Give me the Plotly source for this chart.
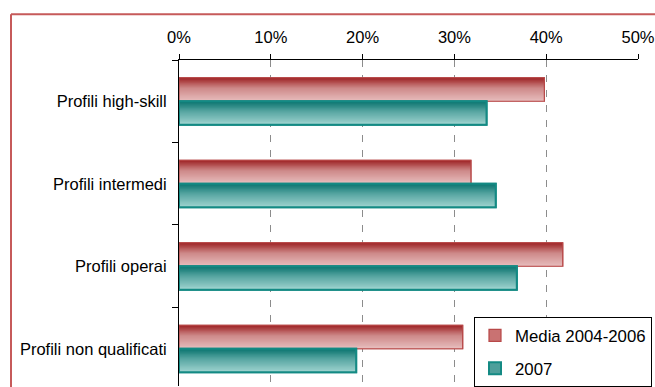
import plotly.graph_objects as go

# ---- data -------------------------------------------------------------
categories = ["Profili high-skill", "Profili intermedi", "Profili operai",
              "Profili non qualificati"]
series_names = ["Media 2004-2006", "2007"]
media_2004_2006 = [39.8, 31.8, 41.8, 30.9]
anno_2007 = [33.5, 34.5, 36.8, 19.3]
x_ticks = [0, 10, 20, 30, 40, 50]
x_tick_labels = [f"{v}%" for v in x_ticks]

# ---- styling ----------------------------------------------------------
W, H = 655, 387
ML, MR, MT, MB = 179, 17, 60, 0
PLOT_W, PLOT_H = W - ML - MR, H - MT - MB
FONT = "Liberation Sans"
BAR_W = 0.285          # thickness of one bar, in category units
N_STRIPS = 24          # slices used to shade each bar top-to-bottom

styles = [
    dict(stops=[(0.0, (0xA0, 0x27, 0x29)), (0.45, (0xCE, 0x8A, 0x8A)),
                (1.0, (0xE6, 0xBB, 0xBB))],
         line="#B84848", lw=1.2, legend_fill="#C97272", side=-1),
    dict(stops=[(0.0, (0x0E, 0x76, 0x71)), (0.45, (0x5A, 0xA7, 0xA3)),
                (1.0, (0x9D, 0xD2, 0xCE))],
         line="#148A84", lw=2, legend_fill="#4E9F9B", side=0),
]


def shade(stops, t):
    for (t0, c0), (t1, c1) in zip(stops[:-1], stops[1:]):
        if t <= t1:
            f = (t - t0) / (t1 - t0) if t1 > t0 else 0
            return "rgb(%d,%d,%d)" % tuple(round(a + (b - a) * f)
                                           for a, b in zip(c0, c1))
    return "rgb(%d,%d,%d)" % stops[-1][1]


def px_x(px):
    return (px - ML) / PLOT_W


def px_y(py):
    return 1 - (py - MT) / PLOT_H


fig = go.Figure()

for name, values, st in zip(series_names, [media_2004_2006, anno_2007], styles):
    start = st["side"] * BAR_W
    # legend entry / base fill
    fig.add_trace(go.Bar(
        x=values, y=categories, orientation="h", name=name,
        legendgroup=name, width=BAR_W, offset=start,
        marker=dict(color=st["legend_fill"], line=dict(color=st["line"], width=st["lw"])),
        hoverinfo="skip"))
    # vertical shading: each slice runs to the bar's lower edge, later ones on top
    for k in range(N_STRIPS):
        t = k / (N_STRIPS - 1)
        top = start + k * BAR_W / N_STRIPS
        fig.add_trace(go.Bar(
            x=values, y=categories, orientation="h", showlegend=False,
            legendgroup=name, width=BAR_W - k * BAR_W / N_STRIPS, offset=top,
            marker=dict(color=shade(st["stops"], t), line=dict(width=0)),
            hoverinfo="skip"))
    # outline on top
    fig.add_trace(go.Bar(
        x=values, y=categories, orientation="h", showlegend=False,
        legendgroup=name, width=BAR_W, offset=start,
        marker=dict(color="rgba(0,0,0,0)", line=dict(color=st["line"], width=st["lw"])),
        hoverinfo="skip"))

# chart-area frame (top and left edges)
frame = "#C65A5A"
fig.add_shape(type="line", xref="paper", yref="paper",
              x0=px_x(11), x1=px_x(W + 20), y0=px_y(14), y1=px_y(14),
              line=dict(color=frame, width=2))
fig.add_shape(type="line", xref="paper", yref="paper",
              x0=px_x(11), x1=px_x(11), y0=px_y(14), y1=px_y(H + 20),
              line=dict(color=frame, width=2))

fig.update_layout(
    width=W, height=H,
    margin=dict(l=ML, r=MR, t=MT, b=MB, pad=0),
    paper_bgcolor="white", plot_bgcolor="white",
    barmode="overlay",
    font=dict(family=FONT, size=16.5, color="black"),
    legend=dict(x=px_x(652), xanchor="right", y=px_y(318), yanchor="top",
                bgcolor="white", bordercolor="black", borderwidth=1,
                font=dict(size=16.8), traceorder="grouped", tracegroupgap=8,
                itemwidth=30),
    xaxis=dict(side="top", range=[0, 50], tickmode="array", tickvals=x_ticks,
               ticktext=x_tick_labels,
               showline=True, linecolor="black", linewidth=1,
               ticks="outside", ticklen=5, tickcolor="black",
               ticklabelstandoff=4,
               showgrid=True, gridcolor="#8C8C8C", gridwidth=1,
               griddash="7px,8px", zeroline=False, fixedrange=True),
    yaxis=dict(type="category", categoryorder="array", categoryarray=categories,
               range=[3.5 - (391 - H) / ((391 - MT) / 4), -0.5],
               showline=True, linecolor="black", linewidth=1,
               ticks="outside", ticklen=6, tickcolor="black",
               tickson="boundaries", ticklabelstandoff=8,
               showgrid=False, zeroline=False, fixedrange=True),
)

fig.write_html("out.html")
